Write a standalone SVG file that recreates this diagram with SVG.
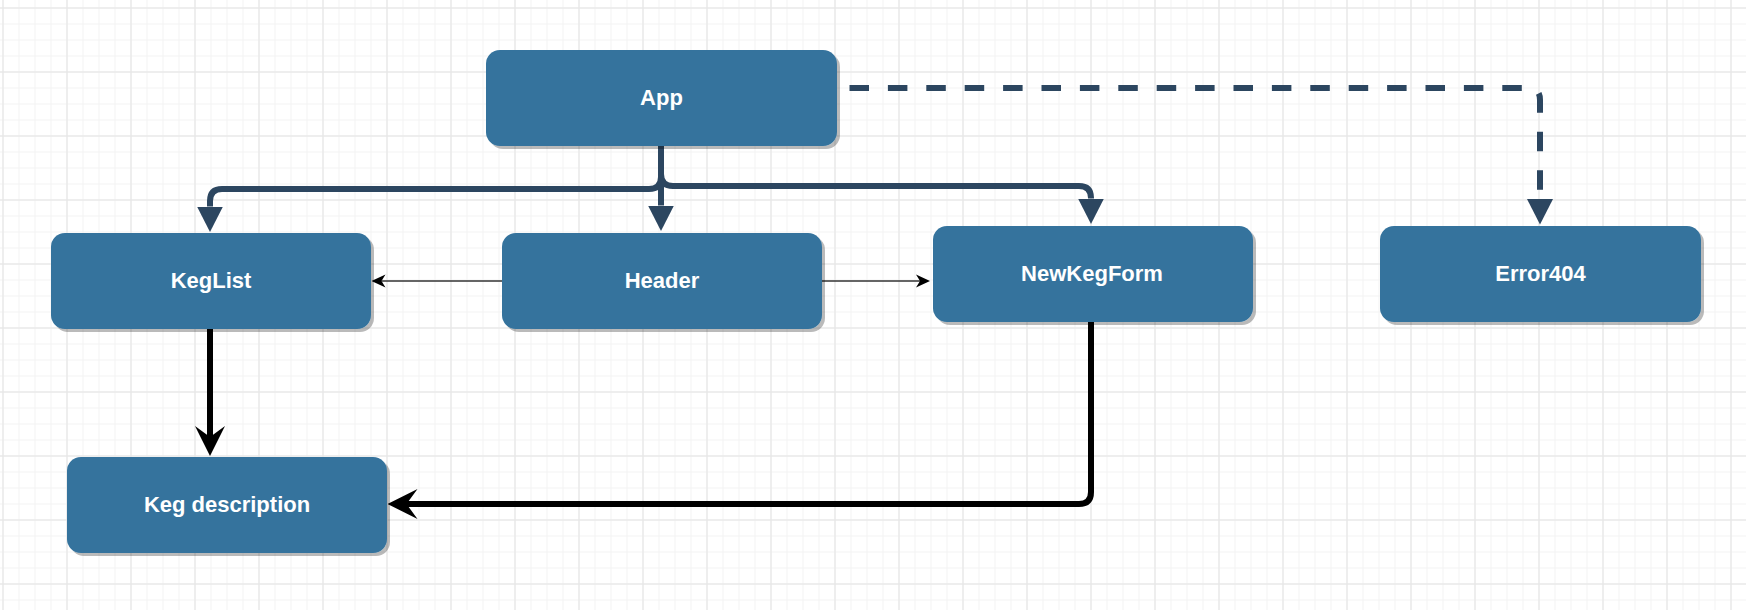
<svg xmlns="http://www.w3.org/2000/svg" width="1746" height="610" viewBox="0 0 1746 610">
  <defs>
    <pattern id="gridMinor" width="16" height="16" patternUnits="userSpaceOnUse" x="2.5" y="7.5">
      <path d="M16 0.5 H0.5 V16" fill="none" stroke="#f2f2f2" stroke-width="1"/>
    </pattern>
    <pattern id="gridMajor" width="64" height="64" patternUnits="userSpaceOnUse" x="2.5" y="7.5">
      <path d="M64 0.5 H0.5 V64" fill="none" stroke="#e3e3e3" stroke-width="1"/>
    </pattern>
    <filter id="shadow" x="-10%" y="-10%" width="130%" height="130%">
      <feDropShadow dx="3" dy="3" stdDeviation="0.6" flood-color="#000" flood-opacity="0.27"/>
    </filter>
    <marker id="block" markerUnits="userSpaceOnUse" viewBox="0 -13 26 26" markerWidth="26" markerHeight="26" refX="0" refY="0" orient="auto">
      <path d="M0,-13 L25.5,0 L0,13 Z" fill="#2c4660" stroke="none"/>
    </marker>
    <marker id="classicBig" markerUnits="userSpaceOnUse" viewBox="0 -15 30 30" markerWidth="30" markerHeight="30" refX="12" refY="0" orient="auto">
      <path d="M0,-15 L30,0 L0,15 L11,0 Z" fill="#000" stroke="none"/>
    </marker>
    <marker id="classicThin" markerUnits="userSpaceOnUse" viewBox="0 -7 14 14" markerWidth="14" markerHeight="14" refX="4" refY="0" orient="auto">
      <path d="M0,-6.5 L14,0 L0,6.5 L4,0 Z" fill="#000" stroke="none"/>
    </marker>
    <style>
      .node rect { fill: #34739d; }
      .node text { fill: #ffffff; font-family: "Liberation Sans", Arial, Helvetica, sans-serif; font-weight: bold; font-size: 22px; text-anchor: middle; }
      .dark { fill: none; stroke: #2c4660; stroke-width: 6; }
      .dashed { fill: none; stroke: #2c4660; stroke-width: 6; stroke-dasharray: 19.5 18.9; }
      .black { fill: none; stroke: #000; stroke-width: 6; }
      .thin { fill: none; stroke: #333; stroke-width: 1.6; }
    </style>
  </defs>

  <rect width="1746" height="610" fill="#ffffff"/>
  <rect width="1746" height="610" fill="url(#gridMinor)"/>
  <rect width="1746" height="610" fill="url(#gridMajor)"/>

  <g id="connectors">
    <path class="dark" d="M661,146 V177 Q661,189 649,189 H222 Q210,189 210,201 V206.5" marker-end="url(#block)"/>
    <path class="dark" d="M661,146 V205.5" marker-end="url(#block)"/>
    <path class="dark" d="M661,146 V174 Q661,186 673,186 H1079 Q1091,186 1091,198 V198.5" marker-end="url(#block)"/>
    <path class="dashed" d="M849.5,88 H1528 Q1540,88 1540,100 V199" marker-end="url(#block)"/>
    <path class="thin" d="M502,281 H381.5" marker-end="url(#classicThin)"/>
    <path class="thin" d="M822,281 H920" marker-end="url(#classicThin)"/>
    <path class="black" d="M210,329 V438" marker-end="url(#classicBig)"/>
    <path class="black" d="M1091,322 V492 Q1091,504 1079,504 H405.5" marker-end="url(#classicBig)"/>
  </g>

  <g id="node-app" class="node">
    <rect x="486" y="50" width="351" height="96" rx="14" ry="14" filter="url(#shadow)"/>
    <text x="661.5" y="105">App</text>
  </g>
  <g id="node-keglist" class="node">
    <rect x="51" y="233" width="320" height="96" rx="14" ry="14" filter="url(#shadow)"/>
    <text x="211" y="288">KegList</text>
  </g>
  <g id="node-header" class="node">
    <rect x="502" y="233" width="320" height="96" rx="14" ry="14" filter="url(#shadow)"/>
    <text x="662" y="288">Header</text>
  </g>
  <g id="node-newkegform" class="node">
    <rect x="933" y="226" width="320" height="96" rx="14" ry="14" filter="url(#shadow)"/>
    <text x="1092" y="281">NewKegForm</text>
  </g>
  <g id="node-error404" class="node">
    <rect x="1380" y="226" width="321" height="96" rx="14" ry="14" filter="url(#shadow)"/>
    <text x="1540.5" y="281">Error404</text>
  </g>
  <g id="node-kegdescription" class="node">
    <rect x="67" y="457" width="320" height="96" rx="14" ry="14" filter="url(#shadow)"/>
    <text x="227" y="512">Keg description</text>
  </g>
</svg>
